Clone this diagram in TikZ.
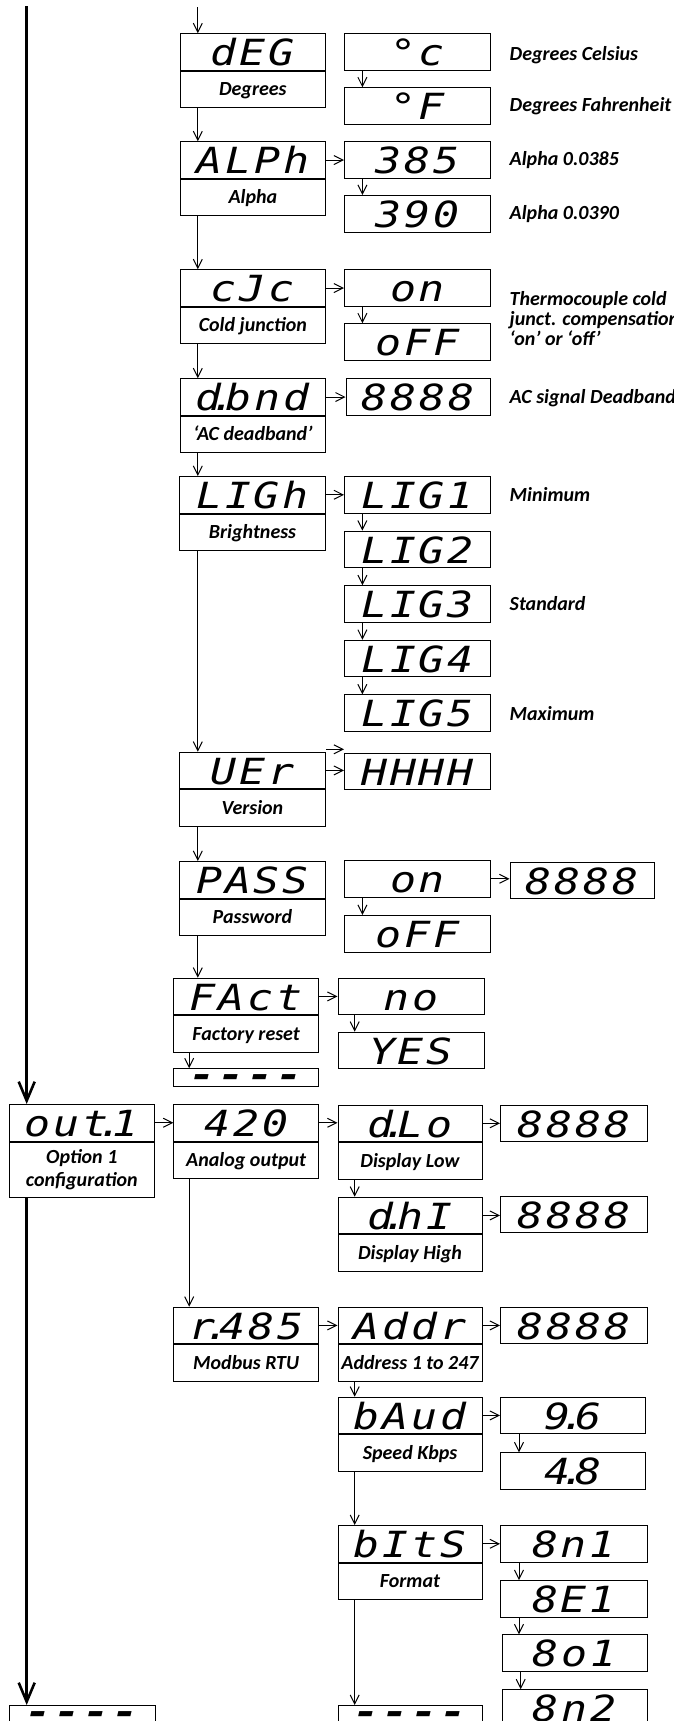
\documentclass[tikz,border=0pt]{standalone}
\usepackage{fontspec}
\usetikzlibrary{arrows.meta}
\newfontfamily\dispfam{DejaVu Sans Mono}[LetterSpace=8, FakeStretch=1.2]
\newfontfamily\labfam{Carlito}
\newcommand\dispfont{\dispfam\itshape\fontsize{36}{36}\selectfont}
\newcommand\labfont{\labfam\bfseries\itshape\fontsize{20}{23}\selectfont}
\newcommand\dt{\kern-11pt.\kern-11pt}
\newcommand\dashes{\smash{\raisebox{-9.8pt}{\dispfam\bfseries\itshape\fontsize{36}{36}\selectfont ----}}}
\tikzset{
  frame/.style={draw, line width=1pt, inner sep=0pt, anchor=north west},
  dsp/.style={frame, font=\dispfont, text height=32pt, text depth=4.5pt},
  lab/.style={frame, font=\labfont, text height=24.5pt, text depth=12pt},
  dashbox/.style={frame, minimum height=17.4pt},
  arr/.style={-{Straight Barb[length=9pt,width=9pt]}, line width=1pt},
  bigarr/.style={-{Straight Barb[length=19pt,width=16pt]}, line width=2.6pt},
  side/.style={anchor=base west, font=\labfont, inner sep=0pt},
}
\newcommand\pair[6]{%
  \node[dsp, minimum width=#4pt] (#1) at (#2,#3) {#5};
  \node[lab, minimum width=#4pt] (#1l) at (#1.south west) {#6};}
\begin{document}
\begin{tikzpicture}[x=1pt,y=-1pt]
\fill[white] (0,0) rectangle (674,1721);
\useasboundingbox (0,0) rectangle (674,1721);

% ---- column A
\pair{deg}{179.7}{33.3}{145.3}{dEG}{Degrees}
\pair{alph}{179.7}{141.3}{145.3}{ALPh}{Alpha}
\pair{cjc}{179.7}{269.3}{145.3}{cJc}{Cold junction}
\pair{dbnd}{179.7}{378.3}{145.3}{d\dt bnd}{‘AC deadband’}
\pair{ligh}{179}{476}{146}{LIGh}{Brightness}
\pair{uer}{179}{751.7}{146}{UEr}{Version}
\pair{pass}{179}{861}{146}{PASS}{Password}
\pair{fact}{173.3}{977.7}{144.7}{FAct}{Factory reset}
\node[dashbox, minimum width=144.7pt] (fend) at (173.3,1068.3) {\dashes};

% ---- column B
\node[dsp, minimum width=146pt] (oc) at (344,33.3) {°c};
\node[dsp, minimum width=146pt] (of) at (344,87.3) {°F};
\node[dsp, minimum width=146pt] (a385) at (344,141.3) {385};
\node[dsp, minimum width=146pt] (a390) at (344,195) {390};
\node[dsp, minimum width=146pt] (on) at (344,269.3) {on};
\node[dsp, minimum width=146pt] (off) at (344,323.3) {oFF};
\node[dsp, minimum width=144.4pt] (dbv) at (345.6,378.3) {8888};
\node[dsp, minimum width=146pt] (lig1) at (344,476) {LIG1};
\node[dsp, minimum width=146pt] (lig2) at (344,530.6) {LIG2};
\node[dsp, minimum width=146pt] (lig3) at (344,585.2) {LIG3};
\node[dsp, minimum width=146pt] (lig4) at (344,639.8) {LIG4};
\node[dsp, minimum width=146pt] (lig5) at (344,694.4) {LIG5};
\node[dsp, minimum width=146pt] (hhhh) at (344,752.7) {HHHH};
\node[dsp, minimum width=146pt] (pon) at (344,860) {on};
\node[dsp, minimum width=146pt] (poff) at (344,915) {oFF};
\node[dsp, minimum width=144pt] (ppw) at (509.5,861.7) {8888};
\node[dsp, minimum width=146pt] (no) at (337.5,977.7) {no};
\node[dsp, minimum width=146pt] (yes) at (337.5,1031.7) {YES};

% ---- side texts
\node[side] (t1) at (509.5,60) {Degrees Celsius};
\node[side] (t2) at (509.5,111.7) {Degrees Fahrenheit};
\node[side] (t3) at (509.5,165.5) {Alpha 0.0385};
\node[side] (t4) at (509.5,219) {Alpha 0.0390};
\node[side] (t5a) at (509.5,305) {Thermocouple cold};
\node[side] (t5b) at (509.5,325.5) {junct. compensation};
\node[side] (t5c) at (509.5,345) {‘on’ or ‘off’};
\node[side] (t6) at (509.5,403) {AC signal Deadband};
\node[side] (t7) at (509.5,501.5) {Minimum};
\node[side] (t8) at (509.5,610.5) {Standard};
\node[side] (t9) at (509.5,720.5) {Maximum};

% ---- option 1 section
\node[dsp, minimum width=145.4pt] (out) at (8.6,1104) {out\dt 1};
\node[frame, font=\labfont, align=center, minimum width=145.4pt, minimum height=55pt] (outl) at (out.south west) {Option 1\\configuration};
\pair{ana}{173.3}{1104}{144.7}{420}{Analog output}
\pair{dlo}{337.5}{1104.5}{144}{d\dt Lo}{Display Low}
\node[dsp, minimum width=147pt] (lov) at (500,1104.5) {8888};
\pair{dhi}{337.5}{1196.7}{144}{d\dt hI}{Display High}
\node[dsp, minimum width=147pt] (hiv) at (500,1195.5) {8888};
\pair{rs}{173.3}{1306.7}{144.7}{r\dt 485}{Modbus RTU}
\pair{addr}{337.5}{1306.7}{144}{Addr}{Address 1 to 247}
\node[dsp, minimum width=147pt] (addv) at (500,1306.7) {8888};
\pair{baud}{337.5}{1396.7}{144}{bAud}{Speed Kbps}
\node[dsp, minimum width=145pt] (b96) at (500,1396.7) {9\dt 6};
\node[dsp, minimum width=145pt] (b48) at (500,1452.3) {4\dt 8};
\pair{bits}{337.5}{1525}{144}{bItS}{Format}
\node[dsp, minimum width=147pt] (f1) at (500,1525) {8n1};
\node[dsp, minimum width=147pt] (f2) at (500,1580) {8E1};
\node[dsp, minimum width=145.3pt] (f3) at (501.7,1634.3) {8o1};
\node[dsp, minimum width=145.3pt] (f4) at (501.7,1689.3) {8n2};
\node[dashbox, minimum width=146.4pt] (eL) at (8.6,1705) {\dashes};
\node[dashbox, minimum width=144pt] (eM) at (337.5,1705) {\dashes};

% ---- connectors column A
\coordinate (start) at (197.8,7.3);
\draw[arr] (start) -- (start |- deg.north);
\foreach \a/\b in {degl/alph, alphl/cjc, cjcl/dbnd, dbndl/ligh} {
  \draw[arr] ([xshift=18.1pt]\a.south west) -- ([xshift=18.1pt]\a.south west |- \b.north);
}
\foreach \a/\b in {lighl/uer, uerl/pass, passl/fact} {
  \draw[arr] ([xshift=18.8pt]\a.south west) -- ([xshift=18.8pt]\a.south west |- \b.north);
}
\draw[arr] ([xshift=15.9pt]factl.south west) -- ([xshift=15.9pt]factl.south west |- fend.north);
\draw[arr] ([xshift=15.9pt]anal.south west) -- ([xshift=15.9pt]anal.south west |- rs.north);

% ---- connectors column B
\foreach \a/\b in {oc/of, a385/a390, on/off, lig1/lig2, lig2/lig3, lig3/lig4, lig4/lig5, pon/poff} {
  \draw[arr] ([xshift=18.4pt]\a.south west) -- ([xshift=18.4pt]\a.south west |- \b.north);
}
\draw[arr] ([xshift=17.2pt]no.south west) -- ([xshift=17.2pt]no.south west |- yes.north);
\foreach \a/\b in {dlol/dhi, addrl/baud, baudl/bits, bitsl/eM} {
  \draw[arr] ([xshift=17.2pt]\a.south west) -- ([xshift=17.2pt]\a.south west |- \b.north);
}
\foreach \a/\b in {b96/b48, f1/f2, f2/f3, f3/f4} {
  \draw[arr] ([xshift=19pt]\a.south west) -- ([xshift=19pt]\a.south west |- \b.north);
}

% ---- horizontal connectors
\foreach \a/\b in {alph/a385, cjc/on, dbnd/dbv, ligh/lig1, uer/hhhh, pon/ppw, fact/no,
                   out/ana, ana/dlo, dlo/lov, dhi/hiv, rs/addr, addr/addv, baud/b96, bits/f1} {
  \draw[arr] (\a.east) -- (\a.east -| \b.west);
}
\draw[arr] ([yshift=2.4pt]uer.north east) -- ([yshift=2.4pt]uer.north east -| hhhh.west);

% ---- main left line
\coordinate (ltop) at (26.7,6);
\draw[bigarr] (ltop) -- (ltop |- out.north);
\draw[bigarr] ([xshift=18.1pt]outl.south west) -- ([xshift=18.1pt]outl.south west |- eL.north);
\end{tikzpicture}
\end{document}
